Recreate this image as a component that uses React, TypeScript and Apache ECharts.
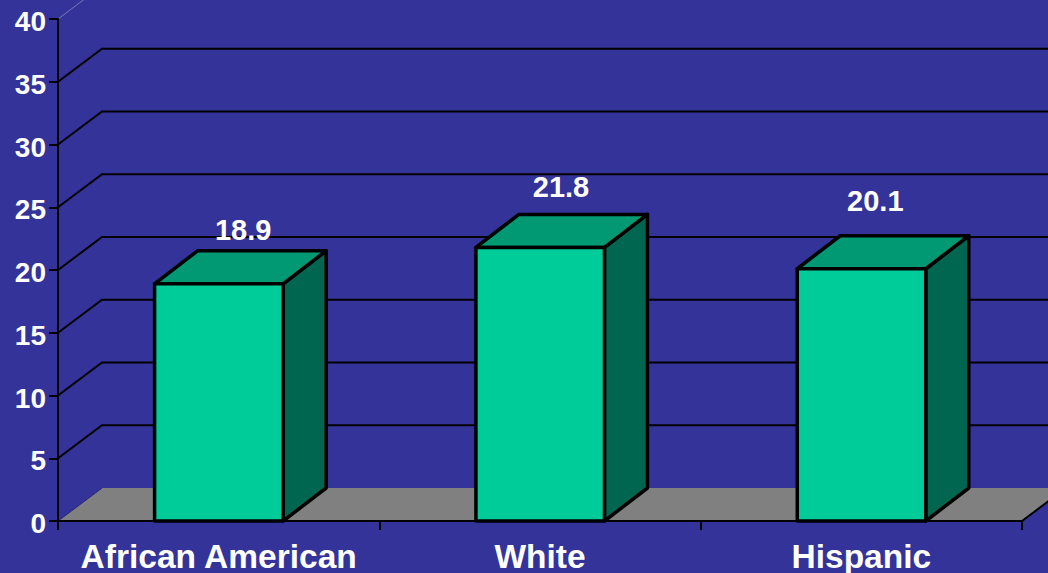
import React, { useEffect, useRef } from "react";
import * as echarts from "echarts";

const categories = ["African American", "White", "Hispanic"];
const rates = [18.9, 21.8, 20.1];
const gridLevels = [5, 10, 15, 20, 25, 30, 35, 40];
const labelNudges = [[24.5, -54], [21, -60], [14, -68]];

const FONT = '"Liberation Sans", Arial, sans-serif';
const DX = 44;
const DY = -33;

export default function App() {
  const ref = useRef<HTMLDivElement>(null);
  useEffect(() => {
    const chart = echarts.init(ref.current!, null, { renderer: "svg" });
    const black = { stroke: "#000", lineWidth: 2, fill: "none" };
    chart.setOption({
      animation: false,
      backgroundColor: "#333399",
      grid: { left: 58, top: 19, width: 964, height: 502, outerBoundsMode: "none", containLabel: false },
      xAxis: {
        type: "category",
        data: categories,
        z: 3,
        axisLine: { lineStyle: { color: "#000", width: 2 } },
        axisTick: { show: true, length: 9, interval: 0, alignWithLabel: false, lineStyle: { color: "#000", width: 2 } },
        axisLabel: { color: "#fff", fontFamily: FONT, fontWeight: "bold", fontSize: 33.5, margin: 18, interval: 0 },
      },
      yAxis: {
        type: "value",
        min: 0,
        max: 40,
        interval: 5,
        z: 3,
        splitLine: { show: false },
        axisLine: { show: true, lineStyle: { color: "#000", width: 2 } },
        axisTick: { show: true, length: 9, lineStyle: { color: "#000", width: 2 } },
        axisLabel: { color: "#fff", fontFamily: FONT, fontWeight: "bold", fontSize: 28, margin: 12, verticalAlign: "top", lineHeight: 5 },
      },
      series: [
        {
          type: "custom",
          name: "floor",
          z: 1,
          silent: true,
          clip: false,
          data: [[0, 0]],
          encode: { x: 0, y: 1 },
          renderItem: (params: any, api: any) => {
            const c = params.coordSys;
            const y0 = api.coord([0, 0])[1];
            const l = c.x;
            const r = c.x + c.width;
            return {
              type: "group",
              children: [
                {
                  type: "polygon",
                  shape: { points: [[l, y0], [l + DX, y0 + DY], [r + DX, y0 + DY], [r, y0]] },
                  style: { fill: "#808080" },
                },
                { type: "line", shape: { x1: l, y1: y0, x2: l + DX, y2: y0 + DY }, style: { stroke: "#24247a", lineWidth: 1 } },
                { type: "line", shape: { x1: r, y1: y0, x2: r + DX, y2: y0 + DY }, style: { stroke: "#000", lineWidth: 2 } },
              ],
            };
          },
        },
        {
          type: "custom",
          name: "levels",
          z: 2,
          silent: true,
          clip: false,
          data: gridLevels.map((v) => [0, v]),
          encode: { x: 0, y: 1 },
          renderItem: (params: any, api: any) => {
            const c = params.coordSys;
            const v = api.value(1);
            const y = api.coord([0, v])[1];
            const l = c.x;
            const r = c.x + c.width;
            const top = v === 40;
            return {
              type: "polyline",
              shape: { points: [[l, y], [l + DX, y + DY], [r + DX, y + DY]] },
              style: top ? { stroke: "#7a7ab8", lineWidth: 1, fill: "none" } : black,
            };
          },
        },
        {
          type: "custom",
          name: "rate",
          z: 4,
          clip: false,
          data: rates.map((v, i) => [i, v]),
          encode: { x: 0, y: 1 },
          renderItem: (params: any, api: any) => {
            const i = api.value(0);
            const v = api.value(1);
            const [cx, top] = api.coord([i, v]);
            const bottom = api.coord([i, 0])[1];
            const w = api.size([1, 0])[0] * 0.4;
            const l = cx - w / 2 + 0.2;
            const r = cx + w / 2 + 0.2;
            const edge = { stroke: "#000", lineWidth: 3.5, lineJoin: "round" };
            const dx = 43;
            const dy = -33;
            return {
              type: "group",
              children: [
                {
                  type: "polygon",
                  shape: { points: [[r, top], [r + dx, top + dy], [r + dx, bottom + dy], [r, bottom]] },
                  style: { fill: "#006650", ...edge },
                },
                {
                  type: "polygon",
                  shape: { points: [[l, top], [l + dx, top + dy], [r + dx, top + dy], [r, top]] },
                  style: { fill: "#009973", ...edge },
                },
                {
                  type: "polygon",
                  shape: { points: [[l, top], [r, top], [r, bottom], [l, bottom]] },
                  style: { fill: "#00CC99", ...edge },
                },
                {
                  type: "text",
                  x: cx + labelNudges[i][0],
                  y: top + labelNudges[i][1],
                  style: {
                    text: v.toFixed(1),
                    fill: "#fff",
                    font: `bold 29px ${FONT}`,
                    textAlign: "center",
                    textVerticalAlign: "middle",
                  },
                },
              ],
            };
          },
        },
      ],
    });
    return () => chart.dispose();
  }, []);
  return <div ref={ref} style={{ position: "absolute", left: 0, top: 0, width: 1048, height: 573 }} />;
}
